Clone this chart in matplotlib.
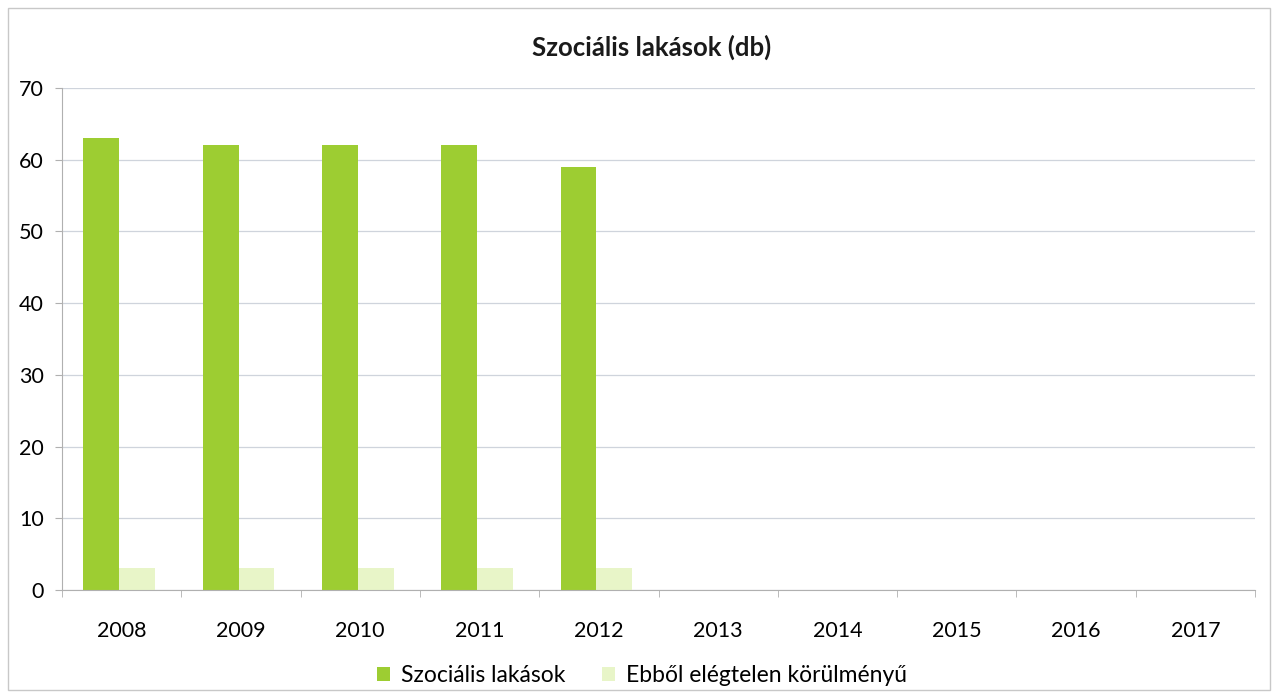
import matplotlib.pyplot as plt
import numpy as np
from matplotlib.patches import Rectangle

years = ["2008", "2009", "2010", "2011", "2012", "2013", "2014", "2015", "2016", "2017"]
szocialis = [63, 62, 62, 62, 59, 0, 0, 0, 0, 0]
elegtelen = [3, 3, 3, 3, 3, 0, 0, 0, 0, 0]
series_names = ["Szociális lakások", "Ebből elégtelen körülményű"]

plt.rcParams['font.family'] = ['Lato', 'DejaVu Sans']

fig = plt.figure(figsize=(12.78, 6.96), dpi=100)
ax = fig.add_axes([62 / 1278, 1 - 590 / 696, (1255 - 62) / 1278, (590 - 88) / 696])

x = np.arange(len(years))
w = 0.3
ax.bar(x - w / 2 - 0.02, szocialis, w, color="#9dcd32", label=series_names[0])
ax.bar(x + w / 2 - 0.02, elegtelen, w, color="#e8f5c8", label=series_names[1])

ax.set_xlim(-0.5, len(years) - 0.5)
ax.set_ylim(0, 70)
ax.set_yticks(range(0, 71, 10))
ax.set_xticks(x)
ax.set_xticklabels(years)
ax.set_xticks(np.arange(-0.5, len(years)), minor=True)
ax.tick_params(axis="x", which="major", length=0, pad=22, labelsize=15.5)
ax.tick_params(axis="x", which="minor", length=5, color="#b0b0b0")
ax.tick_params(axis="y", length=5, color="#b0b0b0", labelsize=15.5, pad=8)

ax.grid(axis="y", color="#cfd4dc", linewidth=0.9)
ax.set_axisbelow(True)
for s in ["top", "right"]:
    ax.spines[s].set_visible(False)
ax.spines["left"].set_color("#b0b0b0")
ax.spines["bottom"].set_color("#b0b0b0")

fig.text(652 / 1278, 1 - 47 / 696, "Szociális lakások (db)", ha="center", va="center",
         fontsize=18.5, fontweight="bold", color="#1a1a1a")

fig.legend(loc="center", bbox_to_anchor=(642 / 1278, 1 - 676 / 696), ncol=2, frameon=False,
           fontsize=16.5, handlelength=0.55, handleheight=0.55, columnspacing=1.6, handletextpad=0.5)

# chart border
fig.patches.append(Rectangle((8 / 1278, 6 / 696), 1262 / 1278, 682 / 696, transform=fig.transFigure,
                             fill=False, edgecolor="#c8c8c8", linewidth=1))

plt.savefig("out.png", dpi=100)
